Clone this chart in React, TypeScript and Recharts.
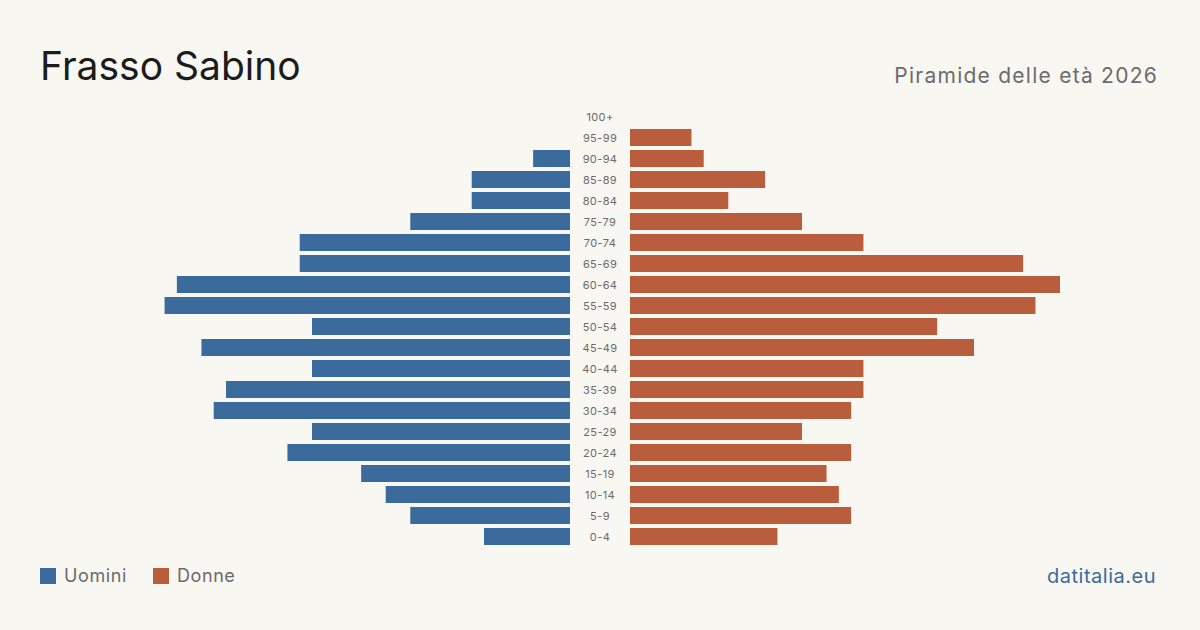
import { BarChart, Bar, XAxis, YAxis } from 'recharts'

// age classes, top of the pyramid first
const ageGroups = [
  '100+', '95-99', '90-94', '85-89', '80-84', '75-79', '70-74', '65-69', '60-64', '55-59',
  '50-54', '45-49', '40-44', '35-39', '30-34', '25-29', '20-24', '15-19', '10-14', '5-9', '0-4',
]
const men = [0, 0, 3, 8, 8, 13, 22, 22, 32, 33, 21, 30, 21, 28, 29, 21, 23, 17, 15, 13, 7]
const women = [0, 5, 6, 11, 8, 14, 19, 32, 35, 33, 25, 28, 19, 19, 18, 14, 18, 16, 17, 18, 12]

const BLUE = '#3b6b9d'
const ORANGE = '#ba5d3c'
const FONT = 'Inter, "Noto Sans", sans-serif'

const rows = ageGroups.map((age, i) => ({ age, men: men[i], women: women[i] }))
const maxValue = Math.max(...men, ...women)

const ROW_H = 21
const HALF_W = 430
const LABEL_W = 60
const chartH = ROW_H * ageGroups.length

function AgeTick({ x, y, payload }: any) {
  return (
    <text x={x} y={y} dy="0.4em" textAnchor="middle" fontSize={11} letterSpacing={0.4} fill="#6b6b6b" fontFamily={FONT}>
      {payload.value}
    </text>
  )
}

export default function App() {
  return (
    <div
      style={{
        position: 'fixed',
        left: 0,
        top: 0,
        width: 1200,
        height: 630,
        background: '#f9f7f2',
        fontFamily: FONT,
        overflow: 'hidden',
      }}
    >
      <div style={{ position: 'absolute', left: 40, top: 40, fontSize: 39, color: '#1c1c1c', lineHeight: '52px' }}>
        Frasso Sabino
      </div>
      <div style={{ position: 'absolute', right: 42, top: 61, fontSize: 21, letterSpacing: 1.25, color: '#6b6b6b', lineHeight: '30px' }}>
        Piramide delle età 2026
      </div>

      {/* men, growing to the left */}
      <div style={{ position: 'absolute', left: 140, top: 106 }}>
        <BarChart width={HALF_W} height={chartH} data={rows} layout="vertical" margin={{ top: 0, right: 0, bottom: 0, left: 0 }} barCategoryGap={2}>
          <XAxis type="number" domain={[0, maxValue]} reversed hide />
          <YAxis type="category" dataKey="age" hide />
          <Bar dataKey="men" fill={BLUE} barSize={17} isAnimationActive={false} />
        </BarChart>
      </div>

      {/* women, with the age labels in the middle gap */}
      <div style={{ position: 'absolute', left: 570, top: 106 }}>
        <BarChart width={LABEL_W + HALF_W} height={chartH} data={rows} layout="vertical" margin={{ top: 0, right: 0, bottom: 0, left: 0 }} barCategoryGap={2}>
          <XAxis type="number" domain={[0, maxValue]} hide />
          <YAxis
            type="category"
            dataKey="age"
            width={LABEL_W}
            axisLine={false}
            tickLine={false}
            tickSize={0}
            tickMargin={LABEL_W / 2}
            interval={0}
            tick={<AgeTick />}
          />
          <Bar dataKey="women" fill={ORANGE} barSize={17} isAnimationActive={false} />
        </BarChart>
      </div>

      <div style={{ position: 'absolute', left: 40, top: 564, display: 'flex', alignItems: 'center', fontSize: 18, letterSpacing: 0.6, color: '#6b6b6b', lineHeight: '24px' }}>
        <span style={{ width: 16, height: 16, background: BLUE, display: 'inline-block', marginRight: 8 }} />
        <span style={{ marginRight: 26 }}>Uomini</span>
        <span style={{ width: 16, height: 16, background: ORANGE, display: 'inline-block', marginRight: 8 }} />
        <span>Donne</span>
      </div>
      <div style={{ position: 'absolute', right: 44, top: 562, fontSize: 20, letterSpacing: 0.5, color: BLUE, lineHeight: '28px' }}>
        datitalia.eu
      </div>
    </div>
  )
}
